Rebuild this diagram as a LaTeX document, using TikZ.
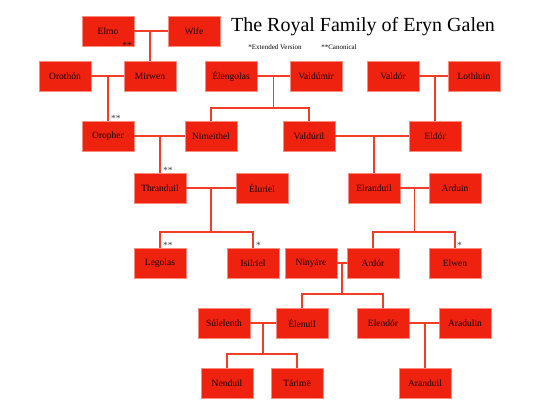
\documentclass[tikz,border=0pt]{standalone}
\usepackage{fontspec}
\setmainfont{Liberation Serif}
\usetikzlibrary{calc}
\definecolor{famred}{RGB}{238,34,14}
\definecolor{famedge}{RGB}{250,140,125}
\definecolor{famline}{RGB}{242,62,38}
\tikzset{RFbox/.style={rectangle,fill=famred,draw=famedge,line width=0.8pt,minimum width=52pt,minimum height=30pt,inner sep=0pt,font=\fontsize{9.5}{11}\selectfont,text=black!90!red},
         RFlink/.style={draw=famline,line width=1.3pt},
         RFstar/.style={font=\fontsize{9.5}{10}\selectfont,text=black!75,inner sep=0pt}}

\begin{document}
\begin{tikzpicture}[x=1pt,y=-1pt]
    \useasboundingbox (0,0) rectangle (540,405);
    \foreach \n/\x/\y/\s in {elmo/108/31/Elmo,wife/194/31/Wife,
        orothon/65/76/Orothón,mirwen/150/76/Mirwen,elengolas/231/76/Élengolas,valdumir/316/76/Valdúmir,valdor/393/76/Valdór,lothluin/474/76/Lothluin,
        oropher/108/136/Oropher,nimeithel/211/136/Nimeithel,valduril/309/136/Valdúril,eldor/435/136/Eldór,
        thranduil/160/188/Thranduil,eluriel/262/188/Éluriel,elranduil/374/188/Elranduil,arduin/455/188/Arduin,
        legolas/160/263/Legolas,isilriel/253/263/Isilriel,ninyare/311/263/Ninyáre,ardor/373/263/Ardór,elwen/455/263/Elwen,
        sulelenth/224/323/Súlelenth,elenuil/302/323/Élenuil,elendor/383/323/Elendór,aradulin/465/323/Aradulin,
        nenduil/227/383/Nenduil,tarime/297/383/Tárimë,aranduil/425/383/Aranduil}
      {\node[RFbox] (\n) at (\x,\y) {\s};}
    % couples with one child
    \draw[RFlink] (elmo) -- (wife); \draw[RFlink] (mirwen.north |- elmo) -- (mirwen.north);
    \draw[RFlink] (orothon) -- (mirwen); \draw[RFlink] (oropher.north |- orothon) -- (oropher.north);
    \draw[RFlink] (valdor) -- (lothluin); \draw[RFlink] (eldor.north |- valdor) -- (eldor.north);
    \draw[RFlink] (oropher) -- (nimeithel); \draw[RFlink] (thranduil.north |- oropher) -- (thranduil.north);
    \draw[RFlink] (valduril) -- (eldor); \draw[RFlink] (elranduil.north |- valduril) -- (elranduil.north);
    \draw[RFlink] (elendor) -- (aradulin); \draw[RFlink] (aranduil.north |- elendor) -- (aranduil.north);
    % couples with two children
    \foreach \a/\b/\c/\d/\h in {elengolas/valdumir/nimeithel/valduril/32,thranduil/eluriel/legolas/isilriel/44,
        elranduil/arduin/ardor/elwen/44,ninyare/ardor/elenuil/elendor/31,sulelenth/elenuil/nenduil/tarime/31}
      {\draw[RFlink] (\a) -- (\b);
       \coordinate (m\a) at ($(\a)!0.5!(\b)$);
       \coordinate (bar\a) at ($(m\a)+(0,\h)$);
       \draw[RFlink] (m\a) -- (bar\a);
       \draw[RFlink] (\c.north) |- (bar\a) -| (\d.north);}
    % marks
    \node[RFstar,text=black!85!red] (s0) at (127,45) {**};
    \node[RFstar,anchor=south west] (s1) at (111,122) {**};
    \node[RFstar,anchor=south west] (s2) at (163,174) {**};
    \node[RFstar,anchor=south west] (s3) at (163,249) {**};
    \node[RFstar,anchor=south west] (s4) at (256,249) {*};
    \node[RFstar,anchor=south west] (s5) at (457,249) {*};
    % title
    \node[font=\fontsize{20}{24}\selectfont] (title) at (363,27) {The Royal Family of Eryn Galen};
    \node[font=\fontsize{7}{8}\selectfont] (ext) at (275,47) {*Extended Version};
    \node[font=\fontsize{7}{8}\selectfont] (can) at (339,47) {**Canonical};
\end{tikzpicture}
\end{document}
